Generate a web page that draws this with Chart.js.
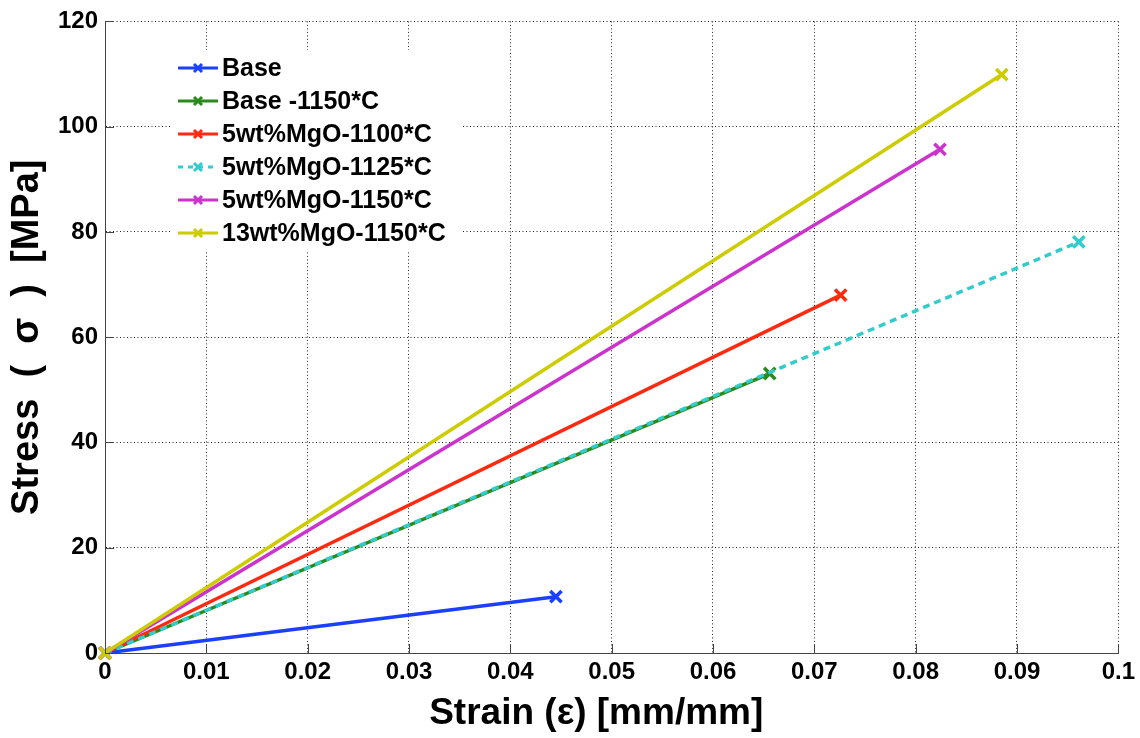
<!DOCTYPE html>
<html>
<head>
<meta charset="utf-8">
<script src="https://cdn.jsdelivr.net/npm/chart.js@4"></script>
<style>
  html, body { margin: 0; padding: 0; background: #fff; }
  #wrap { width: 1140px; height: 738px; }
</style>
</head>
<body>
<div id="wrap"><canvas id="chart" width="1140" height="738"></canvas></div>
<script>
// series: strain (x) and stress (y) points
const seriesNames = ['Base', 'Base -1150*C', '5wt%MgO-1100*C', '5wt%MgO-1125*C', '5wt%MgO-1150*C', '13wt%MgO-1150*C'];
const strainBase = [0, 0.0445];
const stressBase = [0, 10.7];
const strainBase1150 = [0, 0.0656];
const stressBase1150 = [0, 53.1];
const strainMgO1100 = [0, 0.0726];
const stressMgO1100 = [0, 68.0];
const strainMgO1125 = [0, 0.0961];
const stressMgO1125 = [0, 78.1];
const strainMgO1150 = [0, 0.0824];
const stressMgO1150 = [0, 95.7];
const strain13MgO1150 = [0, 0.0885];
const stress13MgO1150 = [0, 109.9];

const xTicks = [0, 0.01, 0.02, 0.03, 0.04, 0.05, 0.06, 0.07, 0.08, 0.09, 0.1];
const yTicks = [0, 20, 40, 60, 80, 100, 120];

const colors = ['#1a40ff', '#2a8a1a', '#ff2a10', '#33cccc', '#cc33cc', '#cccc00'];
const dashes = [[], [], [], [7, 5], [], []];

const FONT = '"Liberation Sans", Arial, Helvetica, sans-serif';

function pts(xs, ys) {
    return xs.map((x, i) => ({ x: x, y: ys[i] }));
}
const allData = [
    pts(strainBase, stressBase),
    pts(strainBase1150, stressBase1150),
    pts(strainMgO1100, stressMgO1100),
    pts(strainMgO1125, stressMgO1125),
    pts(strainMgO1150, stressMgO1150),
    pts(strain13MgO1150, stress13MgO1150)
];

// later series on top, like the original plot
const datasets = allData.map((d, i) => ({
    label: seriesNames[i],
    data: d,
    borderColor: colors[i],
    backgroundColor: colors[i],
    pointBorderColor: colors[i],
    pointBackgroundColor: colors[i],
    borderWidth: 3.5,
    borderDash: dashes[i],
    pointStyle: 'crossRot',
    pointRadius: 8,
    pointBorderWidth: 3.5,
    tension: 0,
    clip: false,
    order: allData.length - i
}));

// inward tick marks on the left and bottom axes
const innerTicks = {
    id: 'innerTicks',
    afterDatasetsDraw(chart) {
        const ctx = chart.ctx;
        const xs = chart.scales.x, ys = chart.scales.y;
        const a = chart.chartArea;
        ctx.save();
        ctx.strokeStyle = '#444';
        ctx.lineWidth = 1;
        ctx.beginPath();
        xTicks.forEach(v => {
            const px = Math.round(xs.getPixelForValue(v)) + 0.5;
            ctx.moveTo(px, a.bottom);
            ctx.lineTo(px, a.bottom - 9);
        });
        yTicks.forEach(v => {
            const py = Math.round(ys.getPixelForValue(v)) + 0.5;
            ctx.moveTo(a.left, py);
            ctx.lineTo(a.left + 9, py);
        });
        ctx.stroke();
        ctx.restore();
    }
};

// legend box inside the plot, line sample with marker
const plotLegend = {
    id: 'plotLegend',
    afterDraw(chart) {
        const ctx = chart.ctx;
        ctx.save();
        ctx.fillStyle = '#fff';
        ctx.fillRect(170, 50, 292, 202);
        ctx.font = 'bold 25px ' + FONT;
        ctx.textBaseline = 'middle';
        ctx.textAlign = 'left';
        seriesNames.forEach((name, i) => {
            const y = 68 + i * 33;
            ctx.strokeStyle = colors[i];
            ctx.lineWidth = 3;
            ctx.setLineDash(i === 3 ? [5, 5] : []);
            ctx.beginPath();
            ctx.moveTo(178, y);
            ctx.lineTo(218, y);
            ctx.stroke();
            ctx.setLineDash([]);
            ctx.beginPath();
            ctx.moveTo(194, y - 4); ctx.lineTo(202, y + 4);
            ctx.moveTo(194, y + 4); ctx.lineTo(202, y - 4);
            ctx.stroke();
            ctx.fillStyle = '#000';
            ctx.fillText(name, 222, y + 1);
        });
        ctx.restore();
    }
};

const gridStyle = {
    color: '#222',
    lineWidth: 1,
    drawTicks: false
};

new Chart(document.getElementById('chart'), {
    type: 'line',
    data: { datasets: datasets },
    options: {
        responsive: false,
        animation: false,
        devicePixelRatio: 1,
        layout: { padding: { top: 17, right: 21, left: 0, bottom: 0 } },
        plugins: {
            legend: { display: false },
            tooltip: { enabled: false }
        },
        scales: {
            x: {
                type: 'linear',
                min: 0,
                max: 0.1,
                afterBuildTicks: s => { s.ticks = xTicks.map(v => ({ value: v })); },
                afterFit: s => { s.height = 85; },
                grid: gridStyle,
                border: { display: true, color: '#444', width: 1, dash: [1, 2.5] },
                ticks: {
                    color: '#000',
                    padding: 5,
                    maxRotation: 0,
                    font: { family: FONT, size: 24, weight: 'bold' },
                    callback: v => String(Number(v.toFixed(2)))
                },
                title: {
                    display: true,
                    text: 'Strain (ε) [mm/mm]   ',
                    color: '#000',
                    padding: { top: 0, bottom: 2 },
                    font: { family: FONT, size: 37, weight: 'bold' }
                }
            },
            y: {
                type: 'linear',
                min: 0,
                max: 120,
                afterBuildTicks: s => { s.ticks = yTicks.map(v => ({ value: v })); },
                afterFit: s => { s.width = 105; },
                grid: gridStyle,
                border: { display: true, color: '#444', width: 1, dash: [1, 2.5] },
                ticks: {
                    color: '#000',
                    padding: 7,
                    font: { family: FONT, size: 24, weight: 'bold' }
                },
                title: {
                    display: true,
                    text: 'Stress  (  σ  )  [MPa]',
                    color: '#000',
                    padding: { top: 5, bottom: 0 },
                    font: { family: FONT, size: 38, weight: 'bold' }
                }
            }
        }
    },
    plugins: [innerTicks, plotLegend]
});
</script>
</body>
</html>
